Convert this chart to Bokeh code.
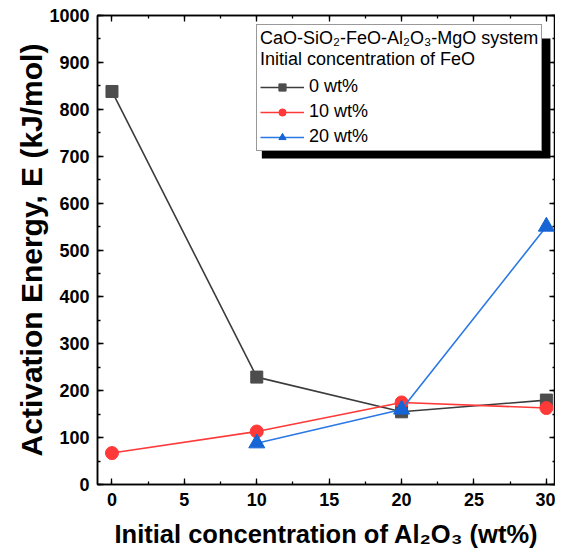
from bokeh.plotting import figure
from bokeh.models import (LinearAxis, SingleIntervalTicker, Legend, LegendItem,
                          Range1d, BoxAnnotation, CustomLabelingPolicy)
from bokeh.embed import file_html
from bokeh.resources import INLINE

# ---- data ----
al2o3_feo0 = [0, 10, 20, 30]
energy_feo0 = [838, 229, 155, 180]
al2o3_feo10 = [0, 10, 20, 30]
energy_feo10 = [67, 113, 175, 163]
al2o3_feo20 = [10, 20, 30]
energy_feo20 = [88, 160, 550]
series_labels = ["0 wt%", "10 wt%", "20 wt%"]
legend_title = "CaO-SiO\u2082-FeO-Al\u2082O\u2083-MgO system\nInitial concentration of FeO"
x_label = "Initial concentration of Al\u2082O\u2083 (wt%)"
y_label = "Activation Energy, E (kJ/mol)"

FONT = "Liberation Sans"

p = figure(width=555, height=550, x_range=Range1d(-1, 30.63), y_range=Range1d(0, 1000),
           output_backend="svg", toolbar_location=None,
           min_border_left=97, min_border_top=15, min_border_bottom=66, min_border_right=0)
p.grid.visible = False
p.outline_line_color = "black"
p.outline_line_width = 1.5
p.background_fill_color = "white"
p.border_fill_color = "white"

hide_all = CustomLabelingPolicy(code="for (const i of indices) { indices.unset(i) } return indices")


def style_axis(ax, show_labels):
    ax.axis_line_color = "black"
    ax.axis_line_width = 1.5
    ax.major_tick_in = 6
    ax.major_tick_out = 0
    ax.minor_tick_in = 3
    ax.minor_tick_out = 0
    ax.major_tick_line_color = "black"
    ax.minor_tick_line_color = "black"
    ax.major_tick_line_width = 1.3
    ax.minor_tick_line_width = 1.3
    if show_labels:
        ax.major_label_text_font = FONT
        ax.major_label_text_font_style = "bold"
        ax.major_label_text_font_size = "18px"
        ax.major_label_text_color = "black"
        ax.major_label_standoff = 8
        ax.axis_label_text_font = FONT
        ax.axis_label_text_font_style = "bold"
        ax.axis_label_text_color = "black"
    else:
        ax.major_label_policy = hide_all
        ax.major_label_text_font_size = "0px"
        ax.major_label_standoff = 0


xb = p.xaxis[0]
yl = p.yaxis[0]
xb.ticker = SingleIntervalTicker(interval=5, num_minor_ticks=2)
yl.ticker = SingleIntervalTicker(interval=100, num_minor_ticks=2)
style_axis(xb, True)
style_axis(yl, True)
xb.axis_label = x_label
xb.axis_label_text_font_size = "25.5px"
xb.axis_label_standoff = 11
yl.axis_label = y_label
yl.axis_label_text_font_size = "30px"
yl.axis_label_standoff = -2

xt = LinearAxis(ticker=SingleIntervalTicker(interval=5, num_minor_ticks=2))
yr = LinearAxis(ticker=SingleIntervalTicker(interval=100, num_minor_ticks=2))
style_axis(xt, False)
style_axis(yr, False)
p.add_layout(xt, "above")
p.add_layout(yr, "right")

gray_line, gray_mark = "#3c3c3c", "#4d4d4d"
red = "#ff3838"
blue_line, blue_mark = "#2a78e4", "#1565d6"

l0 = p.line(al2o3_feo0, energy_feo0, line_color=gray_line, line_width=1.6)
s0 = p.scatter(al2o3_feo0, energy_feo0, marker="square", size=12,
               fill_color=gray_mark, line_color=gray_mark)
l1 = p.line(al2o3_feo10, energy_feo10, line_color=red, line_width=1.6)
s1 = p.scatter(al2o3_feo10, energy_feo10, marker="circle", size=13,
               fill_color=red, line_color=red)
l2 = p.line(al2o3_feo20, energy_feo20, line_color=blue_line, line_width=1.6)
s2 = p.scatter(al2o3_feo20, energy_feo20, marker="triangle", size=16,
               fill_color=blue_mark, line_color=blue_mark)

# legend shadow (offset box behind the legend)
shadow = BoxAnnotation(left=10.35, right=30.28, top=951, bottom=695,
                       fill_color="black", fill_alpha=1, line_alpha=0)
p.add_layout(shadow)

legend = Legend(items=[LegendItem(label=series_labels[0], renderers=[l0, s0]),
                       LegendItem(label=series_labels[1], renderers=[l1, s1]),
                       LegendItem(label=series_labels[2], renderers=[l2, s2])],
                location=(159, 333), title=legend_title,
                title_text_font=FONT, title_text_font_size="18px",
                title_text_font_style="normal", title_text_color="black",
                title_standoff=6,
                label_text_font=FONT, label_text_font_size="18px",
                label_text_color="black",
                glyph_width=44, glyph_height=18, label_height=18,
                label_standoff=5, spacing=4, padding=3, margin=0,
                border_line_color="#333333", border_line_width=1,
                background_fill_color="white", background_fill_alpha=1)
p.add_layout(legend, "center")

open("out.html", "w").write(file_html(p, INLINE))
